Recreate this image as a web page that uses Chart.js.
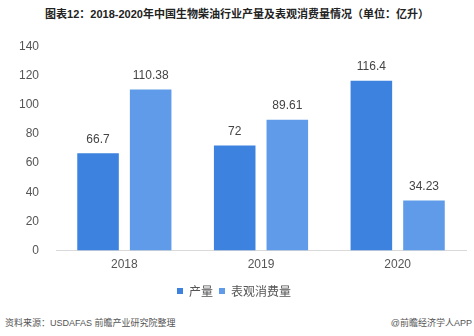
<!DOCTYPE html>
<html>
<head>
<meta charset="utf-8">
<script src="https://cdn.jsdelivr.net/npm/chart.js@4"></script>
<style>
  body { margin: 0; background: #fff; font-family: "Liberation Sans", "Noto Sans CJK SC", sans-serif; }
  #wrap { position: relative; width: 474px; height: 336px; overflow: hidden; }
  #title { position: absolute; top: 5px; left: 0; width: 474px; text-align: center; font-size: 11px; font-weight: bold; color: #222; z-index: 1; }
  #box { position: absolute; top: 22px; left: 0; width: 474px; height: 285px; }
  .src { position: absolute; top: 316px; font-size: 9px; color: #555; }
</style>
</head>
<body>
<div id="wrap">
  <div id="title">图表12：2018-2020年中国生物柴油行业产量及表观消费量情况（单位：亿升）</div>
  <div id="box"><canvas id="chart"></canvas></div>
  <div class="src" style="left:5px">资料来源：USDAFAS 前瞻产业研究院整理</div>
  <div class="src" style="right:2px">@前瞻经济学人APP</div>
</div>
<script>
// 🔹 Data
const years = ["2018", "2019", "2020"];
const output = [66.7, 72, 116.4];
const consumption = [110.38, 89.61, 34.23];
const seriesNames = ["产量", "表观消费量"];

// 🔹 Value labels above each bar
const barLabels = {
  id: "barLabels",
  afterDatasetsDraw(chart) {
    let ctx = chart.ctx;
    ctx.save();
    ctx.font = "12px 'Liberation Sans', Arial, sans-serif";
    ctx.fillStyle = "#444";
    ctx.textAlign = "center";
    ctx.textBaseline = "bottom";
    chart.data.datasets.forEach((ds, i) => {
      chart.getDatasetMeta(i).data.forEach((bar, j) => {
        ctx.fillText(String(ds.data[j]), bar.x, bar.y - 8);
      });
    });
    ctx.restore();
  },
};

new Chart(document.getElementById("chart"), {
  type: "bar",
  data: {
    labels: years,
    datasets: [
      { label: seriesNames[0], data: output, backgroundColor: "#3d82de" },
      { label: seriesNames[1], data: consumption, backgroundColor: "#5f9be8" },
    ],
  },
  options: {
    responsive: true,
    maintainAspectRatio: false,
    animation: false,
    categoryPercentage: 0.77,
    barPercentage: 0.79,
    layout: { padding: { left: 2, right: 8, top: 3, bottom: 0 } },
    plugins: {
      tooltip: { enabled: false },
      legend: {
        position: "bottom",
        labels: {
          boxWidth: 6,
          boxHeight: 6,
          padding: 6,
          color: "#555",
          font: { size: 12, family: "'Noto Sans CJK SC', sans-serif" },
        },
      },
    },
    scales: {
      x: {
        grid: { display: false, drawTicks: false },
        border: { color: "#d9d9d9" },
        ticks: { color: "#555", padding: 7, font: { size: 12, family: "'Liberation Sans', Arial" } },
      },
      y: {
        min: 0,
        max: 140,
        grid: { display: false, drawTicks: false },
        border: { display: false },
        ticks: { stepSize: 20, color: "#555", padding: 17, font: { size: 12, family: "'Liberation Sans', Arial" } },
      },
    },
  },
  plugins: [barLabels],
});
</script>
</body>
</html>
